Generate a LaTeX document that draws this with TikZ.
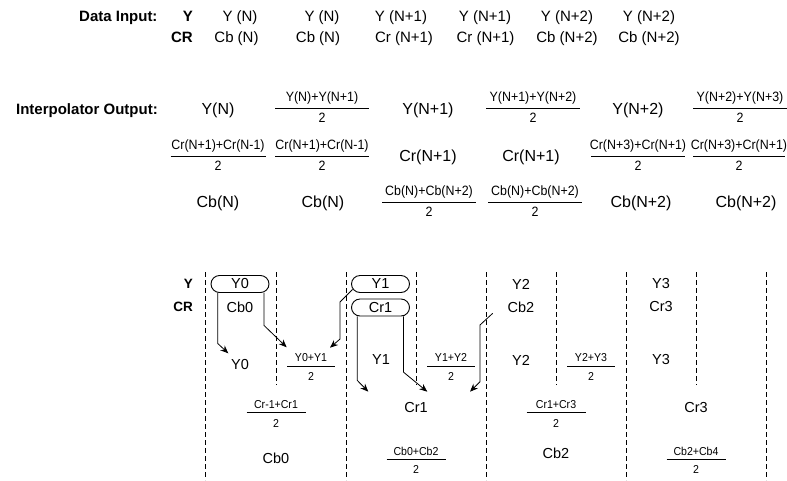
\documentclass[tikz,border=0pt]{standalone}
\usepackage{fontspec}
\setmainfont{Liberation Sans}
\newfontfamily\narrowfont[FakeStretch=0.92]{Liberation Sans}
\usetikzlibrary{arrows.meta}
\newcommand\mkfrac[6]{%
  \coordinate (#1) at (#2,#3);
  \draw[fracbar] ([xshift=-#4pt]#1) -- ([xshift=#4pt]#1);
  \node[#6num] (#1-n) at (#1) {#5};
  \node[#6den] (#1-d) at (#1) {2};
}
\begin{document}
\begin{tikzpicture}[x=1pt,y=-1pt,
  lbl/.style={font=\fontsize{15}{18}\selectfont\bfseries, anchor=base east, inner sep=0pt},
  slbl/.style={font=\fontsize{13.5}{16}\selectfont\bfseries, anchor=east, inner sep=0pt},
  toptxt/.style={font=\fontsize{15}{18}\selectfont, anchor=base, inner sep=0pt},
  iotxt/.style={font=\fontsize{16}{19}\selectfont, anchor=base, inner sep=0pt},
  iofnum/.style={font=\narrowfont\fontsize{13.5}{16}\selectfont, anchor=base, inner sep=0pt, yshift=7pt},
  iofden/.style={font=\narrowfont\fontsize{13.5}{16}\selectfont, anchor=base, inner sep=0pt, yshift=-14pt},
  smfnum/.style={font=\narrowfont\fontsize{11.5}{14}\selectfont, anchor=base, inner sep=0pt, yshift=4.3pt},
  smfden/.style={font=\narrowfont\fontsize{11.5}{14}\selectfont, anchor=base, inner sep=0pt, yshift=-14.5pt},
  fracbar/.style={line width=0.9pt},
  btxt/.style={font=\fontsize{14.5}{17}\selectfont, inner sep=0pt},
  oval/.style={draw, line width=0.9pt, rounded corners=8.5pt, minimum width=58pt, minimum height=17pt, inner sep=0pt, font=\fontsize{14.5}{17}\selectfont},
  guide/.style={dash pattern=on 5pt off 3pt, line width=0.9pt},
  arr/.style={line width=0.8pt, -{Stealth[length=8pt,width=6.5pt]}},
]
\useasboundingbox (0,0) rectangle (787,480);

% ---------- Data input ----------
\node[lbl] (di) at (157.7,21.7) {Data Input:};
\node[lbl] (diy) at (193,21.7) {Y};
\node[lbl] (dicr) at (193,42.3) {CR};
\node[toptxt] (ty1) at (240,21.7) {Y (N)};
\node[toptxt] (ty2) at (322,21.7) {Y (N)};
\node[toptxt] (ty3) at (401,21.7) {Y (N+1)};
\node[toptxt] (ty4) at (485,21.7) {Y (N+1)};
\node[toptxt] (ty5) at (567,21.7) {Y (N+2)};
\node[toptxt] (ty6) at (649,21.7) {Y (N+2)};
\node[toptxt] (tc1) at (236.5,42.3) {Cb (N)};
\node[toptxt] (tc2) at (318,42.3) {Cb (N)};
\node[toptxt] (tc3) at (404,42.3) {Cr (N+1)};
\node[toptxt] (tc4) at (485.5,42.3) {Cr (N+1)};
\node[toptxt] (tc5) at (567,42.3) {Cb (N+2)};
\node[toptxt] (tc6) at (649,42.3) {Cb (N+2)};

% ---------- Interpolator output ----------
\node[lbl] (io) at (158,114) {Interpolator Output:};
\node[iotxt] (r1a) at (218,114) {Y(N)};
\mkfrac{r1b}{322}{108.5}{47}{Y(N)+Y(N+1)}{iof}
\node[iotxt] (r1c) at (428,114) {Y(N+1)};
\mkfrac{r1d}{533}{108.5}{47}{Y(N+1)+Y(N+2)}{iof}
\node[iotxt] (r1e) at (638,114) {Y(N+2)};
\mkfrac{r1f}{740}{108.5}{47}{Y(N+2)+Y(N+3)}{iof}

\mkfrac{r2a}{218}{156}{47.5}{Cr(N+1)+Cr(N-1)}{iof}
\mkfrac{r2b}{322}{156}{47}{Cr(N+1)+Cr(N-1)}{iof}
\node[iotxt] (r2c) at (428,161) {Cr(N+1)};
\node[iotxt] (r2d) at (531,161) {Cr(N+1)};
\mkfrac{r2e}{638}{156}{47}{Cr(N+3)+Cr(N+1)}{iof}
\mkfrac{r2f}{739}{156}{46}{Cr(N+3)+Cr(N+1)}{iof}

\node[iotxt] (r3a) at (218,207) {Cb(N)};
\node[iotxt] (r3b) at (323,207) {Cb(N)};
\mkfrac{r3c}{429}{202}{47}{Cb(N)+Cb(N+2)}{iof}
\mkfrac{r3d}{535}{202}{47}{Cb(N)+Cb(N+2)}{iof}
\node[iotxt] (r3e) at (641,207) {Cb(N+2)};
\node[iotxt] (r3f) at (746,207) {Cb(N+2)};

% ---------- Sampling diagram ----------
\foreach \x in {205,346,486,626,766} \draw[guide] (\x,272) -- (\x,480);
\foreach \x in {276,416,556,696} \draw[guide] (\x,272) -- (\x,385);

\node[slbl] (by) at (193,284) {Y};
\node[slbl] (bcr) at (193,307) {CR};

\node[oval] (y0) at (240,284) {Y0};
\node[btxt] (cb0) at (240,307) {Cb0};
\node[oval] (y1) at (380.5,284) {Y1};
\node[oval] (cr1) at (380.5,307.5) {Cr1};
\node[btxt] (y2) at (521,284) {Y2};
\node[btxt] (cb2) at (521,307) {Cb2};
\node[btxt] (y3) at (661,284) {Y3};
\node[btxt] (cr3) at (661,307) {Cr3};

\node[btxt] (oy0) at (240,365) {Y0};
\mkfrac{oy01}{311}{366}{24}{Y0+Y1}{smf}
\node[btxt] (oy1) at (381,360) {Y1};
\mkfrac{oy12}{451}{366}{24}{Y1+Y2}{smf}
\node[btxt] (oy2) at (521,360) {Y2};
\mkfrac{oy23}{591}{366}{24}{Y2+Y3}{smf}
\node[btxt] (oy3) at (661,360) {Y3};

\mkfrac{ocr01}{276}{412.7}{29.5}{Cr-1+Cr1}{smf}
\node[btxt] (ocr1) at (416,407) {Cr1};
\mkfrac{ocr13}{556}{412.7}{29.5}{Cr1+Cr3}{smf}
\node[btxt] (ocr3) at (696,407) {Cr3};

\node[btxt] (ocb0) at (276,458) {Cb0};
\mkfrac{ocb02}{416}{459.3}{29.5}{Cb0+Cb2}{smf}
\node[btxt] (ocb2) at (556,453) {Cb2};
\mkfrac{ocb24}{696}{459.3}{29.5}{Cb2+Cb4}{smf}

% arrow end points
\coordinate (a1e) at (228.3,353.3);
\coordinate (a2e) at (286.7,347.3);
\coordinate (a3e) at (330,347.7);
\coordinate (a4e) at (368.3,391.7);
\coordinate (a5e) at (427.3,391.7);
\coordinate (a6s) at (492.7,313.3);
\coordinate (a6e) at (470,391.7);

\draw[arr] ([xshift=-22.3pt]y0.south) -- ++(0,50.5) -- (a1e);
\draw[arr] ([xshift=24pt]y0.south) -- ++(0,32.5) -- (a2e);
\draw[arr] ([shift={(1.5,5.5)}]y1.west) -- ++(-12.5,12.5) -- ++(0,37) -- (a3e);
\draw[arr] ([xshift=-23.2pt]cr1.south) -- ++(0,64) -- (a4e);
\draw[arr] ([xshift=23pt]cr1.south) -- ++(0,55.7) -- (a5e);
\draw[arr] (a6s) -- ++(-12.7,11.7) -- ++(0,56.7) -- (a6e);
\end{tikzpicture}
\end{document}
